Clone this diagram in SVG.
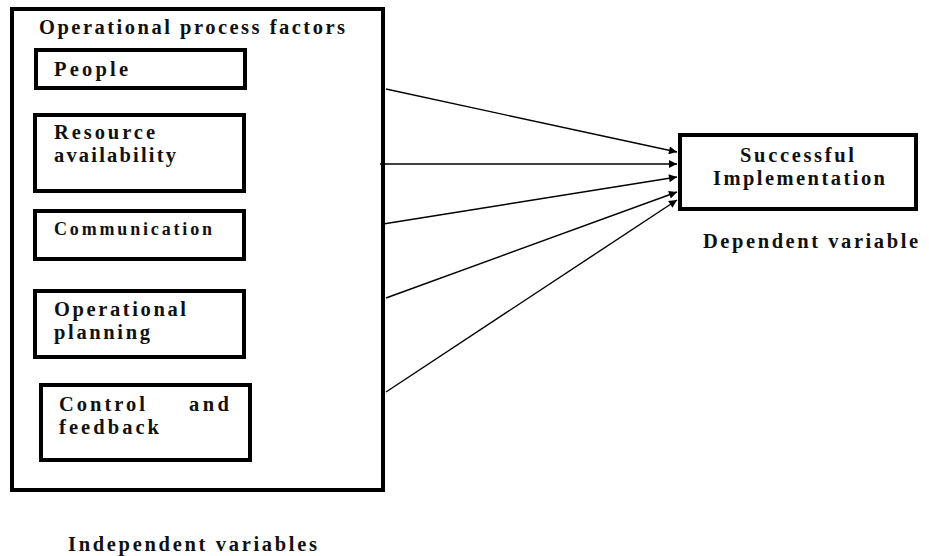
<svg xmlns="http://www.w3.org/2000/svg" width="929" height="556" viewBox="0 0 929 556">
<style>
.box{fill:#fff;stroke:#000;stroke-width:4}
.t{font-family:"Liberation Serif","DejaVu Serif",serif;font-weight:bold;font-size:20.5px;fill:#111}
.s{font-size:18px}
.c{stroke:#000;stroke-width:1.4;fill:none;marker-end:url(#ah)}
</style>
<defs>
<marker id="ah" viewBox="0 0 10 10" refX="10" refY="5" markerWidth="11" markerHeight="8" markerUnits="userSpaceOnUse" orient="auto">
<path d="M0,0 L10,5 L0,10 Z" fill="#000"/>
</marker>
</defs>
<rect width="929" height="556" fill="#fff"/>
<g id="independent">
<rect class="box" x="12" y="9" width="371" height="481"/>
<text class="t" x="39" y="34" textLength="306">Operational process factors</text>
</g>
<g id="people">
<rect class="box" x="36" y="50" width="209" height="38"/>
<text class="t" x="54" y="76" textLength="74">People</text>
</g>
<g id="resource">
<rect class="box" x="35" y="115" width="209" height="76"/>
<text class="t" x="54" y="139" textLength="101">Resource</text>
<text class="t" x="54" y="162" textLength="122">availability</text>
</g>
<g id="communication">
<rect class="box" x="35" y="211" width="209" height="48"/>
<text class="t s" x="54" y="235" textLength="158">Communication</text>
</g>
<g id="planning">
<rect class="box" x="35" y="291" width="209" height="66"/>
<text class="t" x="54" y="316" textLength="132">Operational</text>
<text class="t" x="54" y="339" textLength="96">planning</text>
</g>
<g id="control">
<rect class="box" x="41" y="385" width="209" height="75"/>
<text class="t" x="59" y="411" textLength="86">Control</text>
<text class="t" x="229" y="411" text-anchor="end" textLength="40">and</text>
<text class="t" x="59" y="434" textLength="100">feedback</text>
</g>
<g id="success">
<rect class="box" x="680" y="135" width="236" height="74"/>
<text class="t" x="797" y="162" text-anchor="middle" textLength="114">Successful</text>
<text class="t" x="799" y="185" text-anchor="middle" textLength="172">Implementation</text>
</g>
<g id="labels">
<text class="t" x="703" y="248" textLength="215">Dependent variable</text>
<text class="t" x="68" y="551" textLength="249">Independent variables</text>
</g>
<g id="connectors">
<line class="c" x1="386" y1="89" x2="677" y2="152"/>
<line class="c" x1="380" y1="164" x2="677" y2="164"/>
<line class="c" x1="383" y1="224" x2="677" y2="177"/>
<line class="c" x1="386" y1="298" x2="677" y2="192"/>
<line class="c" x1="386" y1="392" x2="677" y2="200"/>
</g>
</svg>
